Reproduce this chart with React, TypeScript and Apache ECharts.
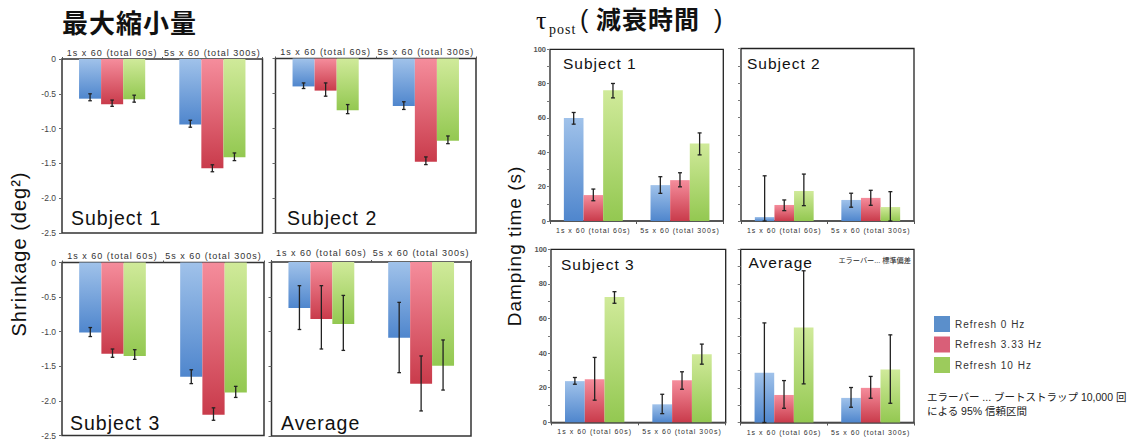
import React, { useEffect, useRef } from 'react';
import * as echarts from 'echarts';

// ---------- data ----------
const categories = ['1s x 60 (total 60s)', '5s x 60 (total 300s)'];
const refreshNames = ['Refresh 0 Hz', 'Refresh 3.33 Hz', 'Refresh 10 Hz'];
const panelTitles = ['Subject 1', 'Subject 2', 'Subject 3', 'Average'];

// Shrinkage (deg^2) — rows: 0 Hz / 3.33 Hz / 10 Hz, columns: categories
const shrinkS1 = [[-0.57, -0.94], [-0.65, -1.57], [-0.58, -1.41]];
const shrinkS1Low = [[-0.6, -0.98], [-0.68, -1.62], [-0.62, -1.46]];
const shrinkS1High = [[-0.5, -0.88], [-0.59, -1.52], [-0.52, -1.35]];

const shrinkS2 = [[-0.4, -0.68], [-0.46, -1.48], [-0.74, -1.18]];
const shrinkS2Low = [[-0.43, -0.73], [-0.54, -1.52], [-0.79, -1.22]];
const shrinkS2High = [[-0.35, -0.62], [-0.35, -1.41], [-0.66, -1.11]];

const shrinkS3 = [[-1.01, -1.65], [-1.32, -2.2], [-1.35, -1.88]];
const shrinkS3Low = [[-1.07, -1.75], [-1.37, -2.28], [-1.4, -1.95]];
const shrinkS3High = [[-0.94, -1.55], [-1.25, -2.1], [-1.26, -1.79]];

const shrinkAvg = [[-0.66, -1.09], [-0.82, -1.75], [-0.89, -1.49]];
const shrinkAvgLow = [[-0.97, -1.59], [-1.25, -2.14], [-1.27, -1.84]];
const shrinkAvgHigh = [[-0.34, -0.58], [-0.34, -1.35], [-0.48, -1.12]];

// Damping time tau_post (s)
const dampS1 = [[60.0, 20.9], [15.1, 23.8], [76.2, 45.2]];
const dampS1Low = [[56.4, 16.1], [11.8, 19.9], [71.7, 38.5]];
const dampS1High = [[63.2, 25.8], [18.6, 28.1], [80.1, 51.3]];

const dampS2 = [[2.3, 12.2], [9.3, 13.4], [17.4, 8.1]];
const dampS2Low = [[0, 8.0], [6.0, 9.1], [8.9, 0]];
const dampS2High = [[26.2, 16.1], [12.2, 17.8], [27.2, 17.0]];

const dampS3 = [[23.8, 10.4], [24.9, 24.3], [72.5, 39.4]];
const dampS3Low = [[22.0, 5.0], [12.8, 19.1], [68.8, 33.6]];
const dampS3High = [[25.9, 16.2], [37.5, 29.2], [75.5, 45.2]];

const dampAvg = [[28.7, 14.2], [15.9, 20.0], [54.8, 30.6]];
const dampAvgLow = [[0, 8.8], [8.2, 14.0], [22.3, 11.1]];
const dampAvgHigh = [[57.5, 20.2], [24.2, 26.6], [87.6, 50.6]];

// ---------- styling / layout ----------
const FONT = "'Liberation Sans', Arial, 'Noto Sans CJK JP', sans-serif";
const CJK = "'Noto Sans CJK JP', 'Liberation Sans', sans-serif";
const SERIF = "'Liberation Serif', 'DejaVu Serif', serif";
const topColors = ['#a0c2ea', '#f58d9c', '#d0ea9a'];
const bottomColors = ['#4f86cd', '#c93b4b', '#93c851'];
const legendColors = ['#5b8fcb', '#d95f78', '#9ccb5c'];

const leftLayout = [
  { left: 62, top: 59, width: 200.5, height: 174, catMargin: 2, showY: true, lx: 71, ly: 218 },
  { left: 275.5, top: 58.5, width: 200.5, height: 174.5, catMargin: 2, showY: false, lx: 287, ly: 218 },
  { left: 62, top: 262.5, width: 202, height: 173, catMargin: 2, showY: true, lx: 70, ly: 423 },
  { left: 271.5, top: 262, width: 199.5, height: 174, catMargin: 4.5, showY: false, lx: 281, ly: 422.5 },
];
const rightLayout = [
  { left: 550, top: 49.3, width: 173.3, height: 171.7, showY: true, lx: 563, ly: 63 },
  { left: 741, top: 48.5, width: 173, height: 172.5, showY: false, lx: 747, ly: 63 },
  { left: 551, top: 249.3, width: 174.7, height: 173, showY: true, lx: 561, ly: 264.5 },
  { left: 740.7, top: 249.3, width: 173.3, height: 173.2, showY: false, lx: 748.5, ly: 262.5 },
];

const leftData = [
  [shrinkS1, shrinkS1Low, shrinkS1High],
  [shrinkS2, shrinkS2Low, shrinkS2High],
  [shrinkS3, shrinkS3Low, shrinkS3High],
  [shrinkAvg, shrinkAvgLow, shrinkAvgHigh],
];
const rightData = [
  [dampS1, dampS1Low, dampS1High],
  [dampS2, dampS2Low, dampS2High],
  [dampS3, dampS3Low, dampS3High],
  [dampAvg, dampAvgLow, dampAvgHigh],
];

function grad(k: number) {
  return new echarts.graphic.LinearGradient(0, 0, 0, 1, [
    { offset: 0, color: topColors[k] },
    { offset: 1, color: bottomColors[k] },
  ]);
}

function errSeries(idx: number, band: number, gap: number, low: number[][], high: number[][], cap: number) {
  const data: number[][] = [];
  low.forEach((row, k) => row.forEach((lo, c) => data.push([c, k, lo, high[k][c]])));
  return {
    type: 'custom',
    name: 'err' + idx,
    xAxisIndex: idx,
    yAxisIndex: idx,
    silent: true,
    z: 10,
    clip: false,
    data,
    encode: { x: 0, y: [2, 3] },
    renderItem: (params: any, api: any) => {
      const c = api.value(0);
      const k = api.value(1);
      const bw = (band * (1 - gap)) / 3;
      const x = api.coord([c, 0])[0] + (k - 1) * bw;
      const y1 = api.coord([c, api.value(2)])[1];
      const y2 = api.coord([c, api.value(3)])[1];
      const st = { stroke: '#222', lineWidth: 1.3 };
      return {
        type: 'group',
        children: [
          { type: 'line', shape: { x1: x, y1, x2: x, y2 }, style: st },
          { type: 'line', shape: { x1: x - cap, y1, x2: x + cap, y2: y1 }, style: st },
          { type: 'line', shape: { x1: x - cap, y1: y2, x2: x + cap, y2 }, style: st },
        ],
      };
    },
  };
}

function buildOption() {
  const grid: any[] = [];
  const xAxis: any[] = [];
  const yAxis: any[] = [];
  const series: any[] = [];
  const graphics: any[] = [];
  const leftGap = 0.34;
  const rightGap = 0.32;

  leftLayout.forEach((g, i) => {
    grid.push({
      left: g.left, top: g.top, width: g.width, height: g.height,
      show: true, borderColor: '#333', borderWidth: 1.5, backgroundColor: 'transparent',
      containLabel: false, outerBoundsMode: 'none',
    });
    xAxis.push({
      type: 'category', gridIndex: i, data: categories, position: 'top',
      axisLine: { show: false },
      axisTick: { show: true, length: 2, lineStyle: { color: '#555' } },
      axisLabel: { interval: 0, fontSize: 9, color: '#333', margin: g.catMargin, fontFamily: FONT },
    });
    yAxis.push({
      type: 'value', gridIndex: i, min: -2.5, max: 0, interval: 0.5,
      axisLine: { show: false },
      axisTick: { show: true, length: 3, lineStyle: { color: '#666' } },
      splitLine: { show: false },
      axisLabel: {
        show: g.showY, fontSize: 8.5, color: '#444', margin: 6, fontFamily: FONT,
        formatter: (v: number) => (v === 0 ? '0' : v.toFixed(1)),
      },
    });
    const [vals, low, high] = leftData[i];
    vals.forEach((row, k) => {
      series.push({
        type: 'bar', name: refreshNames[k], xAxisIndex: i, yAxisIndex: i, data: row,
        barGap: '0%', barCategoryGap: leftGap * 100 + '%', silent: true,
        itemStyle: { color: grad(k) },
      });
    });
    series.push(errSeries(i, g.width / 2, leftGap, low, high, 1.8));
    graphics.push({
      type: 'text', x: g.lx, y: g.ly,
      style: { text: panelTitles[i], fontSize: 19.5, fontFamily: FONT, fill: '#111', align: 'left', verticalAlign: 'middle' },
    });
  });

  rightLayout.forEach((g, j) => {
    const i = j + 4;
    grid.push({
      left: g.left, top: g.top, width: g.width, height: g.height,
      show: true, borderColor: '#222', borderWidth: 1.3, backgroundColor: 'transparent',
      containLabel: false, outerBoundsMode: 'none',
    });
    xAxis.push({
      type: 'category', gridIndex: i, data: categories,
      axisLine: { show: true, lineStyle: { color: '#555', width: 1.5 } },
      axisTick: { show: true, length: 3, lineStyle: { color: '#555' } },
      axisLabel: { interval: 0, fontSize: 7, color: '#333', margin: 6, fontFamily: FONT },
    });
    yAxis.push({
      type: 'value', gridIndex: i, min: 0, max: 100, interval: 10,
      axisLine: { show: false },
      axisTick: { show: true, length: 3, lineStyle: { color: '#777' } },
      splitLine: { show: false },
      axisLabel: {
        show: g.showY, fontSize: 7.5, fontWeight: 'bold', color: '#555', margin: 4, fontFamily: FONT,
        formatter: (v: number) => (v % 20 === 0 ? String(v) : ''),
      },
    });
    const [vals, low, high] = rightData[j];
    vals.forEach((row, k) => {
      series.push({
        type: 'bar', name: refreshNames[k], xAxisIndex: i, yAxisIndex: i, data: row,
        barGap: '0%', barCategoryGap: rightGap * 100 + '%', silent: true,
        itemStyle: { color: grad(k) },
      });
    });
    series.push(errSeries(i, g.width / 2, rightGap, low, high, 2));
    graphics.push({
      type: 'text', x: g.lx, y: g.ly,
      style: { text: panelTitles[j], fontSize: 15.5, fontFamily: FONT, fill: '#111', align: 'left', verticalAlign: 'middle' },
    });
  });

  // titles
  graphics.push(
    { type: 'text', x: 62, y: 21.5, style: { text: '最大縮小量', fontSize: 26, fontWeight: 'bold', fontFamily: CJK, fill: '#111', align: 'left', verticalAlign: 'middle' } },
    { type: 'text', x: 536, y: 20.5, style: { text: 'τ', fontSize: 26, fontFamily: SERIF, fill: '#111', align: 'left', verticalAlign: 'middle' } },
    { type: 'text', x: 549, y: 29, style: { text: 'post', fontSize: 14, fontFamily: SERIF, fill: '#111', align: 'left', verticalAlign: 'middle' } },
    { type: 'text', x: 580, y: 19, style: { text: '(', fontSize: 25, fontFamily: FONT, fill: '#111', align: 'left', verticalAlign: 'middle' } },
    { type: 'text', x: 596, y: 18, style: { text: '減衰時間', fontSize: 25, fontWeight: 'bold', fontFamily: CJK, fill: '#111', align: 'left', verticalAlign: 'middle' } },
    { type: 'text', x: 714, y: 19, style: { text: ')', fontSize: 25, fontFamily: FONT, fill: '#111', align: 'left', verticalAlign: 'middle' } },
    { type: 'text', x: 19, y: 254, rotation: Math.PI / 2, style: { text: 'Shrinkage (deg²)', fontSize: 20, fontFamily: FONT, fill: '#111', align: 'center', verticalAlign: 'middle' } },
    { type: 'text', x: 514, y: 246, rotation: Math.PI / 2, style: { text: 'Damping time (s)', fontSize: 19, fontFamily: FONT, fill: '#111', align: 'center', verticalAlign: 'middle' } },
    { type: 'text', x: 911, y: 260, style: { text: 'エラーバー... 標準偏差', fontSize: 7.2, fontFamily: FONT, fill: '#222', align: 'right', verticalAlign: 'middle' } },
    { type: 'text', x: 927, y: 397, style: { text: 'エラーバー ... ブートストラップ 10,000 回', fontSize: 10.5, fontFamily: FONT, fill: '#222', align: 'left', verticalAlign: 'middle' } },
    { type: 'text', x: 927, y: 411, style: { text: 'による 95% 信頼区間', fontSize: 10.5, fontFamily: FONT, fill: '#222', align: 'left', verticalAlign: 'middle' } },
  );

  return {
    animation: false,
    backgroundColor: '#fff',
    grid,
    xAxis,
    yAxis,
    legend: {
      orient: 'vertical', left: 929, top: 311, itemWidth: 16, itemHeight: 16, itemGap: 4.5,
      icon: 'rect', selectedMode: false,
      data: refreshNames.map((n, k) => ({ name: n, itemStyle: { color: legendColors[k] } })),
      textStyle: { fontSize: 10, color: '#333', fontFamily: FONT },
    },
    graphic: { elements: graphics },
    series,
  };
}

const NO_SPACING = new Set(['8.5px', '7.5px', '7.2px', '10.5px']);

export default function App() {
  const ref = useRef<HTMLDivElement>(null);
  useEffect(() => {
    const el = ref.current as HTMLDivElement;
    const chart = echarts.init(el, null, { renderer: 'svg' });
    chart.setOption(buildOption() as any);
    const apply = () => {
      el.querySelectorAll('text').forEach((t) => {
        const fs = getComputedStyle(t).fontSize;
        t.setAttribute('letter-spacing', NO_SPACING.has(fs) ? '0' : '1');
      });
    };
    apply();
    chart.on('finished', apply);
    const timer = setTimeout(apply, 30);
    return () => {
      clearTimeout(timer);
      chart.dispose();
    };
  }, []);
  return (
    <div
      ref={ref}
      style={{ position: 'fixed', left: 0, top: 0, width: 1141, height: 440, background: '#fff' }}
    />
  );
}
